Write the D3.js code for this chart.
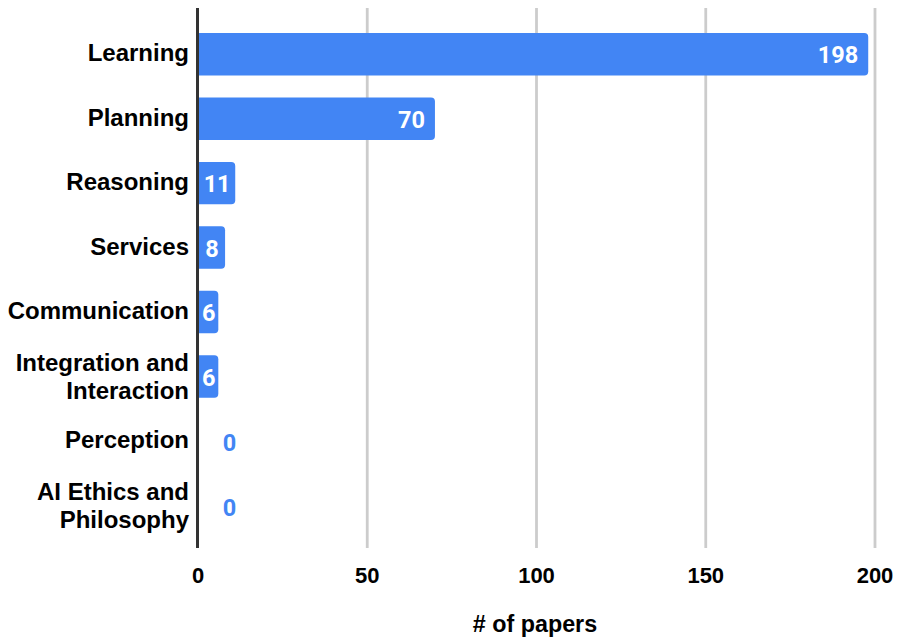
<!DOCTYPE html>
<html>
<head>
<meta charset="utf-8">
<script src="https://cdn.jsdelivr.net/npm/d3@7"></script>
<style>
  html, body { margin: 0; padding: 0; background: #fff; }
  svg { display: block; }
</style>
</head>
<body>
<div id="chart"></div>
<script>
// Paper counts per topic
const categories = [
  ["Learning"],
  ["Planning"],
  ["Reasoning"],
  ["Services"],
  ["Communication"],
  ["Integration and", "Interaction"],
  ["Perception"],
  ["AI Ethics and", "Philosophy"]
];
const values = [198, 70, 11, 8, 6, 6, 0, 0];
const xTicks = [0, 50, 100, 150, 200];
const xTitle = "# of papers";

const W = 899, H = 642;
const plot = { left: 198, right: 875, top: 8, bottom: 548 };
const barColor = "#4285F4";
const labelFont = "'Liberation Sans', Arial, sans-serif";

const svg = d3.select("#chart").append("svg")
  .attr("width", W).attr("height", H);

const x = d3.scaleLinear().domain([0, 200]).range([plot.left, plot.right]);
const y = d3.scaleBand()
  .domain(d3.range(categories.length))
  .range([22, 537.6])
  .paddingInner(0.342)
  .paddingOuter(0.171);

// Vertical gridlines
svg.append("g").selectAll("line")
  .data(xTicks.filter(d => d !== 0))
  .join("line")
  .attr("x1", d => x(d)).attr("x2", d => x(d))
  .attr("y1", plot.top).attr("y2", plot.bottom)
  .attr("stroke", "#cccccc").attr("stroke-width", 2.8);

// Bars with rounded right corners
const r = 4;
function barPath(x0, x1, y0, h) {
  const w = x1 - x0;
  if (w <= 0) return "";
  const rr = Math.min(r, w, h / 2);
  return `M${x0},${y0}H${x1 - rr}Q${x1},${y0} ${x1},${y0 + rr}` +
         `V${y0 + h - rr}Q${x1},${y0 + h} ${x1 - rr},${y0 + h}H${x0}Z`;
}
svg.append("g").selectAll("path")
  .data(values)
  .join("path")
  .attr("d", (d, i) => barPath(x(0), x(d), y(i), y.bandwidth()))
  .attr("fill", barColor);

// Value labels: right-aligned inside long bars, centred in short ones,
// and placed beside the axis for empty bars
const wide = d => x(d) - x(0) > 60;
svg.append("g").selectAll("text")
  .data(values)
  .join("text")
  .attr("x", d => d === 0 ? x(0) + 31.5 : wide(d) ? x(d) - 10 : (x(0) + x(d)) / 2 + 0.5)
  .attr("y", (d, i) => y(i) + y.bandwidth() / 2 + (d === 0 ? 10.5 : 9.2))
  .attr("text-anchor", d => d !== 0 && wide(d) ? "end" : "middle")
  .attr("font-family", "Roboto, 'Open Sans', sans-serif")
  .attr("font-weight", "bold")
  .attr("font-size", 23.5)
  .attr("fill", d => d > 0 ? "#ffffff" : barColor)
  .text(d => d);

// Category labels
const catG = svg.append("g");
categories.forEach((lines, i) => {
  const cy = y(i) + y.bandwidth() / 2;
  const lh = 27.3;
  const t = catG.append("text")
    .attr("text-anchor", "end")
    .attr("font-family", labelFont)
    .attr("font-weight", "bold")
    .attr("font-size", 24)
    .attr("fill", "#000");
  lines.forEach((s, k) => {
    const base = lines.length === 1
      ? cy + 7
      : cy + (k - (lines.length - 1) / 2) * lh + 8.6;
    t.append("tspan")
      .attr("x", 189)
      .attr("y", base)
      .text(s);
  });
});

// Zero axis line
svg.append("line")
  .attr("x1", x(0) - 0.5).attr("x2", x(0) - 0.5)
  .attr("y1", plot.top).attr("y2", plot.bottom)
  .attr("stroke", "#333333").attr("stroke-width", 3);

// X tick labels
svg.append("g").selectAll("text")
  .data(xTicks)
  .join("text")
  .attr("x", d => x(d))
  .attr("y", 583)
  .attr("text-anchor", "middle")
  .attr("font-family", labelFont)
  .attr("font-weight", "bold")
  .attr("font-size", 22)
  .attr("fill", "#000")
  .text(d => d);

// X axis title
svg.append("text")
  .attr("x", 535)
  .attr("y", 632)
  .attr("text-anchor", "middle")
  .attr("font-family", labelFont)
  .attr("font-weight", "bold")
  .attr("font-size", 23.3)
  .attr("fill", "#000")
  .text(xTitle);
</script>
</body>
</html>
